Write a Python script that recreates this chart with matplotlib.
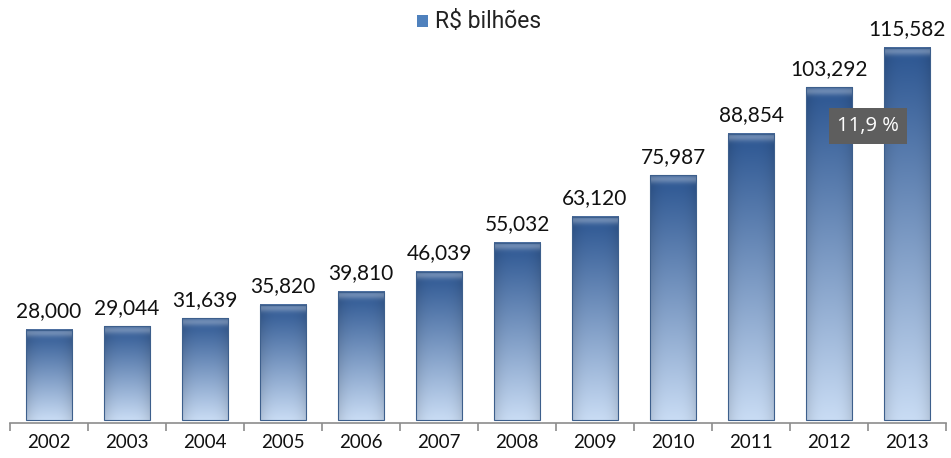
import numpy as np
import matplotlib
matplotlib.use('Agg')
import matplotlib.pyplot as plt
from matplotlib.colors import to_rgb

years = ['2002', '2003', '2004', '2005', '2006', '2007', '2008', '2009', '2010', '2011', '2012', '2013']
values = [28000, 29044, 31639, 35820, 39810, 46039, 55032, 63120, 75987, 88854, 103292, 115582]
value_labels = ['28,000', '29,044', '31,639', '35,820', '39,810', '46,039', '55,032', '63,120',
                '75,987', '88,854', '103,292', '115,582']
legend_label = 'R$ bilhões'
growth_label = '11,9 %'

W, H = 951, 458
fig = plt.figure(figsize=(W / 100, H / 100), dpi=100)
ax = fig.add_axes([10 / W, 35 / H, 936 / W, 423 / H])

ymin, ymax = -930, 130400
px_per_unit = 423 / (ymax - ymin)
width = 0.6

top_c = np.array(to_rgb('#2b5591'))
bot_c = np.array(to_rgb('#c9dcf4'))
edge_c = '#3d5f8c'

for i, v in enumerate(values):
    hpx = v * px_per_unit
    n = 300
    t = np.linspace(0, 1, n)[:, None]  # 0 = top, 1 = bottom
    col = top_c * (1 - t) + bot_c * t
    col = np.repeat(col[:, None, :], 40, axis=1)
    xs = np.linspace(-1, 1, 40)
    shade = 1 - 0.12 * np.abs(xs) ** 3
    col = col * shade[None, :, None]
    # light band right at the top of each bar
    band = 7 / hpx
    tt = np.linspace(0, 1, n)
    hl = np.exp(-((tt - band * 0.5) / (band * 0.6)) ** 2) * 0.3
    col = col + (1 - col) * hl[:, None, None]
    col = np.clip(col, 0, 1)
    x0, x1 = i - width / 2, i + width / 2
    ax.imshow(col, extent=(x0, x1, 0, v), aspect='auto', zorder=2, interpolation='bilinear')
    ax.add_patch(plt.Rectangle((x0, 0), width, v, fill=False, edgecolor=edge_c, lw=0.8, zorder=3))
    ax.annotate(value_labels[i], (i, v), xytext=(0, 6), textcoords='offset points',
                ha='center', va='bottom', fontsize=15, family='Lato', color='#111111')

ax.set_xlim(-0.5, len(years) - 0.5)
ax.set_ylim(ymin, ymax)

for s in ['top', 'right', 'left']:
    ax.spines[s].set_visible(False)
ax.spines['bottom'].set_color('#8c8c8c')
ax.spines['bottom'].set_linewidth(1.2)
ax.set_yticks([])
ax.set_xticks(np.arange(-0.5, len(years), 1))
ax.set_xticklabels([])
ax.tick_params(axis='x', which='major', length=6, color='#8c8c8c', width=1.2)
ax.set_xticks(np.arange(len(years)), minor=True)
ax.set_xticklabels(years, minor=True, fontsize=13.5, family='Lato', color='#111111')
ax.tick_params(axis='x', which='minor', length=0, pad=8)

# growth box between 2012 and 2013
ax.text(10.5, 91300, growth_label, ha='center', va='center', fontsize=14.5, family='Open Sans',
        color='white', zorder=5,
        bbox=dict(boxstyle='square,pad=0.4', facecolor='#5e5e5e', edgecolor='none'))

# legend
fig.patches.append(plt.Rectangle((417 / W, 1 - 27 / H), 11 / W, 12 / H, transform=fig.transFigure,
                                 facecolor='#4f81bd', edgecolor='none'))
fig.text(435 / W, 1 - 22 / H, legend_label, ha='left', va='center', fontsize=16.5,
         family='Roboto', color='#222222')

fig.savefig('out.png', dpi=100)
